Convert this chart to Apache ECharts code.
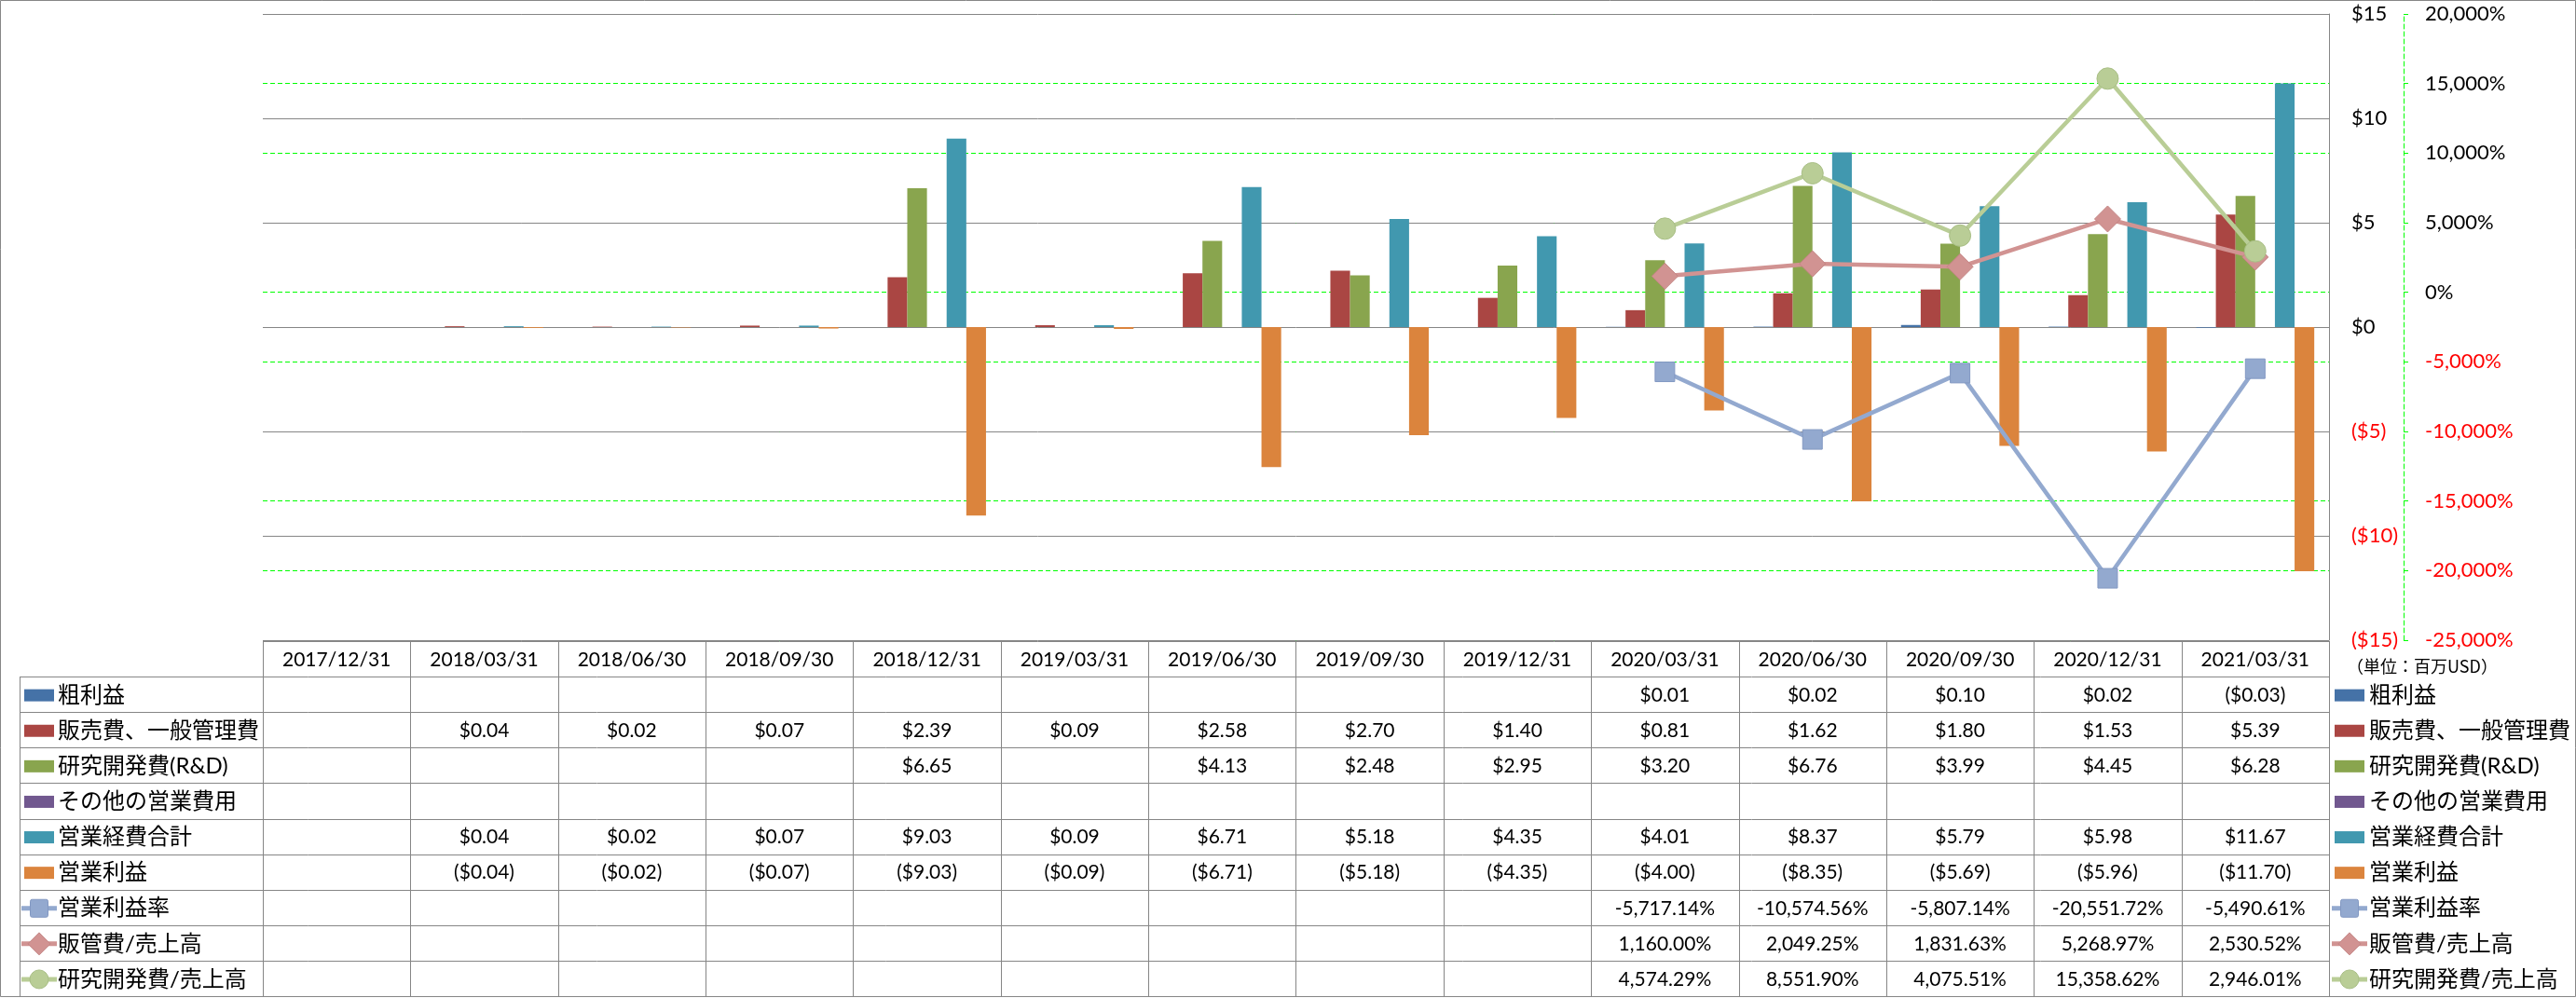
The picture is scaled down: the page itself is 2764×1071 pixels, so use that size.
<!DOCTYPE html>
<html><head><meta charset="utf-8">
<script src="https://cdn.jsdelivr.net/npm/echarts@6/dist/echarts.min.js"></script>
<style>html,body{margin:0;padding:0;background:#fff}#c{width:2764px;height:1071px}</style>
</head><body><div id="c"></div>
<script>
// ---- data ----
const categories = ['2017/12/31','2018/03/31','2018/06/30','2018/09/30','2018/12/31','2019/03/31','2019/06/30','2019/09/30','2019/12/31','2020/03/31','2020/06/30','2020/09/30','2020/12/31','2021/03/31'];
const grossProfit = [null,null,null,null,null,null,null,null,null,0.01,0.02,0.10,0.02,-0.03];
const sgaExpense  = [null,0.04,0.02,0.07,2.39,0.09,2.58,2.70,1.40,0.81,1.62,1.80,1.53,5.39];
const rndExpense  = [null,null,null,null,6.65,null,4.13,2.48,2.95,3.20,6.76,3.99,4.45,6.28];
const otherOpex   = [null,null,null,null,null,null,null,null,null,null,null,null,null,null];
const totalOpex   = [null,0.04,0.02,0.07,9.03,0.09,6.71,5.18,4.35,4.01,8.37,5.79,5.98,11.67];
const opIncome    = [null,-0.04,-0.02,-0.07,-9.03,-0.09,-6.71,-5.18,-4.35,-4.00,-8.35,-5.69,-5.96,-11.70];
const opMargin    = [null,null,null,null,null,null,null,null,null,-5717.14,-10574.56,-5807.14,-20551.72,-5490.61];
const sgaRatio    = [null,null,null,null,null,null,null,null,null,1160.00,2049.25,1831.63,5268.97,2530.52];
const rndRatio    = [null,null,null,null,null,null,null,null,null,4574.29,8551.90,4075.51,15358.62,2946.01];
const seriesNames = ['粗利益','販売費、一般管理費','研究開発費(R&D)','その他の営業費用','営業経費合計','営業利益','営業利益率','販管費/売上高','研究開発費/売上高'];
const unitLabel = '（単位：百万USD）';

// ---- layout / style ----
const FONT = "Lato, 'Noto Sans CJK JP', sans-serif";
const plotLeft = 282, plotRight = 2499, plotTop = 15, plotBottom = 687;
const tableTop = 688, rowH = 38.1;
const GRID = '#868686';
const barColors = ['#4572A7','#AA4643','#89A54E','#71588F','#4198AF','#DB843D'];
const lineColors = ['#93A9CF','#D19392','#B9CD96'];
const lineBorders = ['#8298C2','#C48584','#A9BF86'];
const symbols = ['rect','diamond','circle'];
const symbolSizes = [21, 28, 23];

function fmtDollar(v){
  if (v === null || v === undefined) return '';
  const s = '$' + Math.abs(v).toFixed(2);
  return v < 0 ? '(' + s + ')' : s;
}
function fmtPct(v){
  if (v === null || v === undefined) return '';
  return v.toLocaleString('en-US',{minimumFractionDigits:2,maximumFractionDigits:2}) + '%';
}

const barData = [grossProfit, sgaExpense, rndExpense, otherOpex, totalOpex, opIncome];
const lineData = [opMargin, sgaRatio, rndRatio];

const series = [];
barData.forEach((d,i)=>{
  series.push({
    name: seriesNames[i], type:'bar', data:d, yAxisIndex:0,
    barGap:'0%', barCategoryGap:'20%',
    itemStyle:{color:barColors[i]}, z:2
  });
});
lineData.forEach((d,i)=>{
  series.push({
    name: seriesNames[6+i], type:'line', data:d, yAxisIndex:1,
    symbol: symbols[i], symbolSize: symbolSizes[i], showAllSymbol:true,
    lineStyle:{color:lineColors[i], width:4.5},
    itemStyle:{color:lineColors[i], borderColor:lineBorders[i], borderWidth:1},
    z:5
  });
});

const option = {
  animation:false,
  backgroundColor:'#fff',
  grid:{left:plotLeft, right:2764-plotRight, top:plotTop, bottom:1071-plotBottom, containLabel:false},
  xAxis:{type:'category', data:categories, boundaryGap:true,
    axisLine:{show:false}, axisTick:{show:false}, axisLabel:{show:false}, splitLine:{show:false}},
  yAxis:[
    {type:'value', position:'right', min:-15, max:15, interval:5, z:1,
      axisLine:{show:true, lineStyle:{color:GRID, width:1}},
      axisTick:{show:false},
      splitLine:{show:true, lineStyle:{color:GRID, width:1}},
      axisLabel:{margin:24, fontSize:22, fontFamily:FONT,
        formatter:v=> v<0 ? '($'+Math.abs(v)+')' : '$'+v,
        color:v=> (Number(v)<0 ? '#FF0000' : '#000000')}},
    {type:'value', position:'right', offset:80, min:-25000, max:20000, interval:5000, z:0,
      axisLine:{show:true, lineStyle:{color:'#00FF00', type:[5,3], width:1}},
      axisTick:{show:true, length:8, lineStyle:{color:'#00FF00', type:[5,3]}},
      splitLine:{show:true, lineStyle:{color:'#00FF00', type:[5,3], width:1}},
      axisLabel:{margin:23, fontSize:22, fontFamily:FONT,
        formatter:v=> Number(v).toLocaleString('en-US') + '%',
        color:v=> (Number(v)<0 ? '#FF0000' : '#000000')}}
  ],
  series: series
};

const chart = echarts.init(document.getElementById('c'), null, {renderer:'canvas'});
chart.setOption(option);

// ---- data table + legends (built from the arrays) ----
const g = [];
const n = categories.length;
const centers = categories.map((c,i)=>chart.convertToPixel({xAxisIndex:0}, i));
const bw = (plotRight - plotLeft) / n;
const tableBottom = tableTop + rowH * 10;
function hline(x1,x2,y){ g.push({type:'line', silent:true, shape:{x1:x1, y1:Math.round(y)+0.5, x2:x2, y2:Math.round(y)+0.5}, style:{stroke:GRID, lineWidth:1}, z:10}); }
function vline(x,y1,y2){ g.push({type:'line', silent:true, shape:{x1:Math.round(x)+0.5, y1:y1, x2:Math.round(x)+0.5, y2:y2}, style:{stroke:GRID, lineWidth:1}, z:10}); }
function txt(t,x,y,size,align){ g.push({type:'text', silent:true, x:x, y:y, style:{text:t, fontSize:size, fontFamily:FONT, fill:'#000', align:align||'center', verticalAlign:'middle'}, z:11}); }

// outer border
g.push({type:'rect', silent:true, shape:{x:0.5,y:0.5,width:2763,height:1069}, style:{fill:null, stroke:GRID, lineWidth:1}, z:9});

// horizontal lines
hline(plotLeft, plotRight, tableTop);
for (let r=1; r<=10; r++) hline(21, plotRight, tableTop + rowH*r);
// vertical lines
vline(21, tableTop+rowH, tableBottom);
vline(plotLeft, tableTop, tableBottom);
for (let i=1;i<n;i++) vline(centers[i]-bw/2, tableTop, tableBottom);
vline(plotRight, tableTop, tableBottom);

// header
categories.forEach((c,i)=> txt(c, centers[i], tableTop + rowH/2 + 1, 21));

function legendKey(idx, x0, cy){
  if (idx < 6){
    g.push({type:'rect', silent:true, shape:{x:x0, y:cy-6.5, width:32, height:13}, style:{fill:barColors[idx]}, z:11});
  } else {
    const k = idx-6, cx = x0+16;
    g.push({type:'line', silent:true, shape:{x1:x0-3, y1:cy, x2:x0+35, y2:cy}, style:{stroke:lineColors[k], lineWidth:5}, z:11});
    const st = {fill:lineColors[k], stroke:lineBorders[k], lineWidth:1};
    if (k===0) g.push({type:'rect', silent:true, shape:{x:cx-9.5,y:cy-9.5,width:19,height:19,r:2}, style:st, z:12});
    else if (k===1) g.push({type:'polygon', silent:true, shape:{points:[[cx,cy-12],[cx+12,cy],[cx,cy+12],[cx-12,cy]]}, style:st, z:12});
    else g.push({type:'circle', silent:true, shape:{cx:cx, cy:cy, r:10}, style:st, z:12});
  }
}

const allRows = barData.concat(lineData);
allRows.forEach((d,r)=>{
  const cy = tableTop + rowH*(r+1) + rowH/2 + 1;
  legendKey(r, 26, cy);
  txt(seriesNames[r], 62, cy, 24, 'left');
  legendKey(r, 2505, cy);
  txt(seriesNames[r], 2542, cy, 24, 'left');
  const f = r < 6 ? fmtDollar : fmtPct;
  d.forEach((v,i)=> txt(f(v), centers[i], cy, 21));
});

// unit label
g.push({type:'text', silent:true, x:2518, y:715, style:{text:unitLabel, fontSize:18, fontFamily:"'Noto Sans CJK JP', sans-serif", fill:'#000', align:'left', verticalAlign:'middle'}, z:11});

chart.setOption({graphic:{elements:g}});
</script></body></html>
